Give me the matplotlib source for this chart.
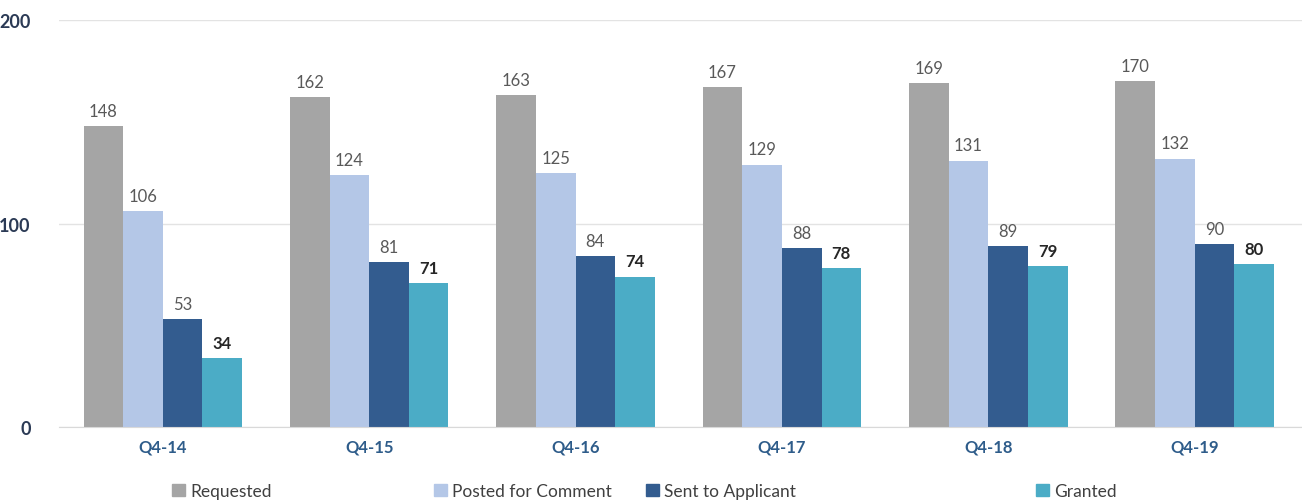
import numpy as np
import matplotlib.pyplot as plt
from matplotlib.patches import Patch

plt.rcParams['font.family'] = ['Lato', 'DejaVu Sans']

# datos
quarters = ["Q4-14", "Q4-15", "Q4-16", "Q4-17", "Q4-18", "Q4-19"]
requested = [148, 162, 163, 167, 169, 170]
posted = [106, 124, 125, 129, 131, 132]
sent = [53, 81, 84, 88, 89, 90]
granted = [34, 71, 74, 78, 79, 80]

series = ["Requested", "Posted for Comment", "Sent to Applicant", "Granted"]
colors = ["#A5A5A5", "#B4C7E7", "#335C8F", "#4BACC6"]

fig = plt.figure(figsize=(13.02, 5.02), dpi=100)
ax = fig.add_axes([0.045, 0.147, 0.955, 0.811])

x = np.arange(len(quarters))
w = 0.192
datos = [requested, posted, sent, granted]
for i, (vals, col) in enumerate(zip(datos, colors)):
    pos = x + (i - 1.5) * w
    ax.bar(pos, vals, width=w, color=col, zorder=2)
    for p, v in zip(pos, vals):
        if i == 3:
            ax.text(p, v + 3.5, str(v), ha="center", va="bottom",
                    fontsize=12, fontweight="bold", color="#262626")
        else:
            ax.text(p, v + 3.5, str(v), ha="center", va="bottom",
                    fontsize=12, color="#595959")

ax.set_xlim(-0.505, len(quarters) - 0.48)
ax.set_ylim(0, 200)
ax.set_yticks([0, 100, 200])
ax.set_xticks(x)
ax.set_xticklabels(quarters, fontsize=12, fontweight="bold", color="#2E5C8A")
ax.tick_params(axis="y", labelsize=13, labelcolor="#2B3A55", length=0, pad=20)
ax.tick_params(axis="x", length=0, pad=8)
for lab in ax.get_yticklabels():
    lab.set_fontweight("bold")
ax.grid(axis="y", color="#E3E3E3", linewidth=1, zorder=0)
for s in ["top", "right", "left"]:
    ax.spines[s].set_visible(False)
ax.spines["bottom"].set_color("#D9D9D9")

# leyenda
leg_x = [0.120, 0.321, 0.484, 0.784]
for name, col, lx in zip(series, colors, leg_x):
    fig.legend(handles=[Patch(color=col)], labels=[name], loc="center left",
               bbox_to_anchor=(lx, 0.02), frameon=False, fontsize=12.5,
               handlelength=0.75, handleheight=0.75, handletextpad=0.3,
               labelcolor="#404040")

fig.savefig("out.png", dpi=100)
